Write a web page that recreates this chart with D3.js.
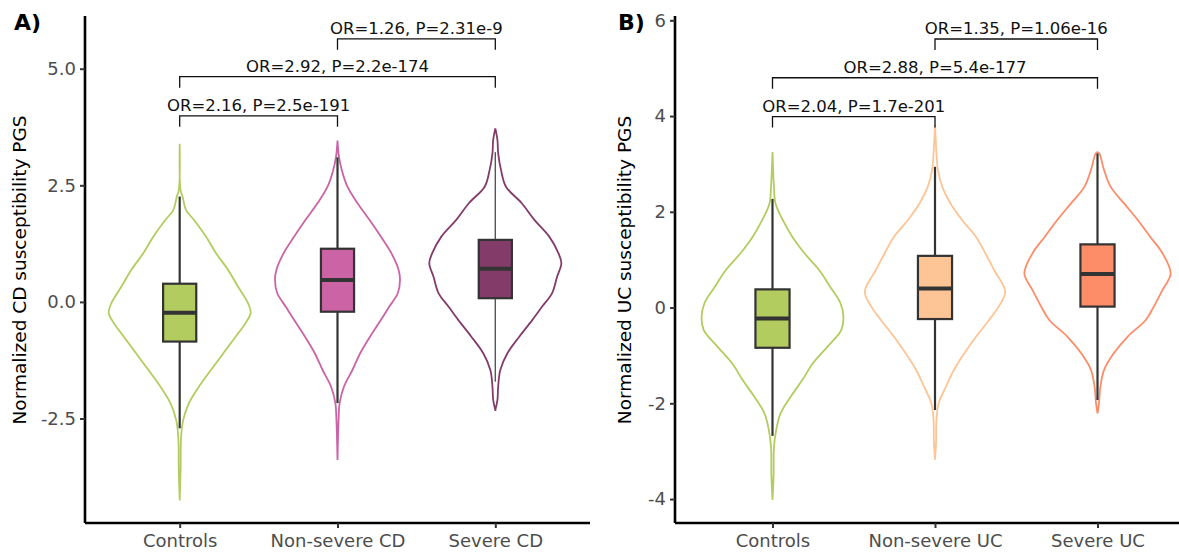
<!DOCTYPE html>
<html>
<head>
<meta charset="utf-8">
<script src="https://cdn.jsdelivr.net/npm/d3@7"></script>
<style>
  html, body { margin: 0; padding: 0; background: #fff; }
  svg { display: block; font-family: "DejaVu Sans", sans-serif; }
</style>
</head>
<body>
<div id="chart"></div>
<script>
// ---- data ----
var cdGroups = ['Controls', 'Non-severe CD', 'Severe CD'];
var ucGroups = ['Controls', 'Non-severe UC', 'Severe UC'];
var cdTicks = [-2.5, 0, 2.5, 5];
var ucTicks = [-4, -2, 0, 2, 4, 6];
var cdColors = ['#b3cc5f', '#cb63a5', '#833c6a'];
var ucColors = ['#b3cc5f', '#fdc496', '#fd8c69'];

// violin outlines: [value, relative density]
var cdViolins = [
  [[3.39,0],[2.40,0.012],[2.26,0.04],[1.97,0.09],[1.76,0.2],[1.40,0.37],[1.05,0.51],[0.69,0.68],[0.33,0.82],[-0.02,0.96],[-0.23,1.0],[-0.45,0.93],[-0.74,0.79],[-1.09,0.62],[-1.46,0.44],[-1.82,0.27],[-2.17,0.13],[-2.53,0.05],[-2.89,0.02],[-3.6,0.013],[-4.24,0]],
  [[3.46,0],[3.12,0.02],[2.83,0.06],[2.47,0.14],[2.12,0.28],[1.76,0.45],[1.40,0.61],[1.04,0.76],[0.69,0.86],[0.47,0.88],[0.19,0.85],[-0.10,0.73],[-0.39,0.61],[-0.74,0.46],[-1.10,0.32],[-1.46,0.21],[-1.82,0.09],[-2.17,0.03],[-2.53,0.015],[-3.39,0]],
  [[3.72,0],[3.47,0.03],[3.19,0.04],[2.83,0.08],[2.47,0.15],[2.12,0.37],[1.76,0.55],[1.40,0.76],[1.04,0.89],[0.83,0.93],[0.54,0.87],[0.19,0.80],[-0.10,0.66],[-0.39,0.52],[-0.74,0.34],[-1.10,0.17],[-1.46,0.07],[-1.82,0.04],[-2.10,0.03],[-2.32,0]]
];
var ucViolins = [
  [[3.25,0],[2.52,0.02],[2.18,0.04],[1.83,0.14],[1.48,0.27],[1.13,0.44],[0.78,0.64],[0.43,0.79],[0.09,0.93],[-0.19,0.97],[-0.47,0.94],[-0.82,0.75],[-1.17,0.55],[-1.51,0.41],[-1.86,0.25],[-2.21,0.11],[-2.56,0.05],[-2.91,0.02],[-3.5,0.015],[-4.02,0]],
  [[3.81,0],[3.22,0.02],[2.87,0.04],[2.52,0.10],[2.18,0.21],[1.83,0.37],[1.48,0.56],[1.13,0.69],[0.78,0.81],[0.33,0.96],[0.02,0.87],[-0.26,0.74],[-0.61,0.56],[-0.96,0.40],[-1.30,0.26],[-1.65,0.15],[-2.00,0.05],[-2.35,0.02],[-2.80,0.015],[-3.18,0]],
  [[3.25,0],[3.22,0.025],[2.87,0.09],[2.52,0.18],[2.18,0.36],[1.83,0.55],[1.48,0.72],[1.13,0.89],[0.71,1.0],[0.37,0.89],[0.02,0.77],[-0.26,0.66],[-0.61,0.41],[-0.96,0.22],[-1.30,0.09],[-1.65,0.04],[-2.00,0.02],[-2.21,0]]
];

// boxes: [lower whisker, q1, median, q3, upper whisker]
var cdBoxes = [[-2.71,-0.85,-0.23,0.39,2.26],[-2.17,-0.21,0.47,1.14,3.10],[-1.71,0.08,0.71,1.33,3.21]];
var ucBoxes = [[-2.68,-0.84,-0.23,0.38,2.27],[-2.14,-0.24,0.40,1.08,2.94],[-1.93,0.02,0.70,1.32,3.22]];

// pairwise tests
var cdPairs = [[0,1],[0,2],[1,2]];
var cdBracketY = [3.99, 4.83, 5.64];
var cdLabels = ['OR=2.16, P=2.5e-191', 'OR=2.92, P=2.2e-174', 'OR=1.26, P=2.31e-9'];
var ucPairs = [[0,1],[0,2],[1,2]];
var ucBracketY = [3.99, 4.80, 5.61];
var ucLabels = ['OR=2.04, P=1.7e-201', 'OR=2.88, P=5.4e-177', 'OR=1.35, P=1.06e-16'];

var W = 1179, H = 552;
var svg = d3.select('#chart').append('svg')
  .attr('width', W)
  .attr('height', H);

function panel(opt) {
  var x = d3.scalePoint().domain(opt.groups).range([opt.x0, opt.x1]).padding(0.6);
  var y = d3.scaleLinear().domain(opt.yDomain).range([523, 16]);
  var step = x.step();
  var half = d3.scaleLinear().domain([0, 1]).range([0, 0.45 * step]);
  var g = svg.append('g');

  // violins (outline only)
  var outline = d3.line().curve(d3.curveCatmullRom.alpha(0.5));
  opt.violins.forEach(function(v, i) {
    var cx = x(opt.groups[i]);
    var right = v.map(function(p) { return [cx + half(p[1]), y(p[0])]; });
    var left = v.slice().reverse().map(function(p) { return [cx - half(p[1]), y(p[0])]; });
    g.append('path')
      .attr('d', outline(right.concat(left)) + 'Z')
      .attr('fill', 'none')
      .attr('stroke', opt.colors[i])
      .attr('stroke-width', 1.8);
  });

  // boxplots
  var bw = 0.21 * step;
  opt.boxes.forEach(function(b, i) {
    var cx = x(opt.groups[i]);
    var thin = opt.thinWhisker && opt.thinWhisker[i];
    g.append('line')
      .attr('x1', cx).attr('x2', cx)
      .attr('y1', y(b[0])).attr('y2', y(b[4]))
      .attr('stroke', thin ? '#555' : '#333')
      .attr('stroke-width', thin ? 1.4 : 2.2);
    g.append('rect')
      .attr('x', cx - bw / 2)
      .attr('y', y(b[3]))
      .attr('width', bw)
      .attr('height', y(b[1]) - y(b[3]))
      .attr('fill', opt.colors[i])
      .attr('stroke', '#333')
      .attr('stroke-width', 2.2);
    g.append('line')
      .attr('x1', cx - bw / 2).attr('x2', cx + bw / 2)
      .attr('y1', y(b[2])).attr('y2', y(b[2]))
      .attr('stroke', '#333')
      .attr('stroke-width', 4);
  });

  // significance brackets
  opt.pairs.forEach(function(p, i) {
    var xa = x(opt.groups[p[0]]), xb = x(opt.groups[p[1]]), yy = y(opt.bracketY[i]);
    g.append('path')
      .attr('d', 'M' + xa + ',' + (yy + 11) + 'V' + yy + 'H' + xb + 'V' + (yy + 11))
      .attr('fill', 'none')
      .attr('stroke', '#111')
      .attr('stroke-width', 1.3);
    g.append('text')
      .attr('x', (xa + xb) / 2)
      .attr('y', yy - 5)
      .attr('text-anchor', 'middle')
      .attr('font-size', '16.5px')
      .attr('fill', '#111')
      .text(opt.labels[i]);
  });

  // axes (plain hyphen for negatives, as in the figure)
  var fmt = function(d) { return opt.fmt(d).replace('\u2212', '-'); };
  var yAxis = g.append('g')
    .attr('transform', 'translate(' + opt.x0 + ',0)')
    .call(d3.axisLeft(y).tickValues(opt.ticks).tickSize(5).tickPadding(4)
      .tickFormat(fmt));
  var xAxis = g.append('g')
    .attr('transform', 'translate(0,523)')
    .call(d3.axisBottom(x).tickSize(5).tickPadding(6));
  [yAxis, xAxis].forEach(function(a) {
    a.select('.domain').attr('stroke', '#000').attr('stroke-width', 2.6);
    a.selectAll('.tick line').attr('stroke', '#333').attr('stroke-width', 2);
    a.selectAll('.tick text').attr('fill', '#4d4d4d')
      .attr('font-size', '18px').attr('font-family', '"DejaVu Sans", sans-serif');
  });
  yAxis.select('.domain').attr('d', 'M0,523V16');
  xAxis.select('.domain').attr('d', 'M' + opt.x0 + ',0H' + opt.x1);

  g.append('text')
    .attr('transform', 'translate(' + opt.titleX + ',270) rotate(-90)')
    .attr('text-anchor', 'middle')
    .attr('dy', '0.35em')
    .attr('font-size', '18.5px')
    .attr('fill', '#000')
    .text(opt.title);

  g.append('text')
    .attr('x', opt.tagX)
    .attr('y', 30)
    .attr('font-size', '22px')
    .attr('font-weight', 'bold')
    .attr('fill', '#000')
    .text(opt.tag);
}

panel({
  groups: cdGroups, x0: 85, x1: 590, yDomain: [-4.74, 6.13], ticks: cdTicks,
  fmt: d3.format('.1f'), violins: cdViolins, boxes: cdBoxes, colors: cdColors,
  pairs: cdPairs, bracketY: cdBracketY, labels: cdLabels, thinWhisker: [false, false, true],
  title: 'Normalized CD susceptibility PGS', titleX: 20, tag: 'A)', tagX: 14
});

panel({
  groups: ucGroups, x0: 675, x1: 1195, yDomain: [-4.50, 6.09], ticks: ucTicks,
  fmt: d3.format('d'), violins: ucViolins, boxes: ucBoxes, colors: ucColors,
  pairs: ucPairs, bracketY: ucBracketY, labels: ucLabels,
  title: 'Normalized UC susceptibility PGS', titleX: 625, tag: 'B)', tagX: 618
});
</script>
</body>
</html>
